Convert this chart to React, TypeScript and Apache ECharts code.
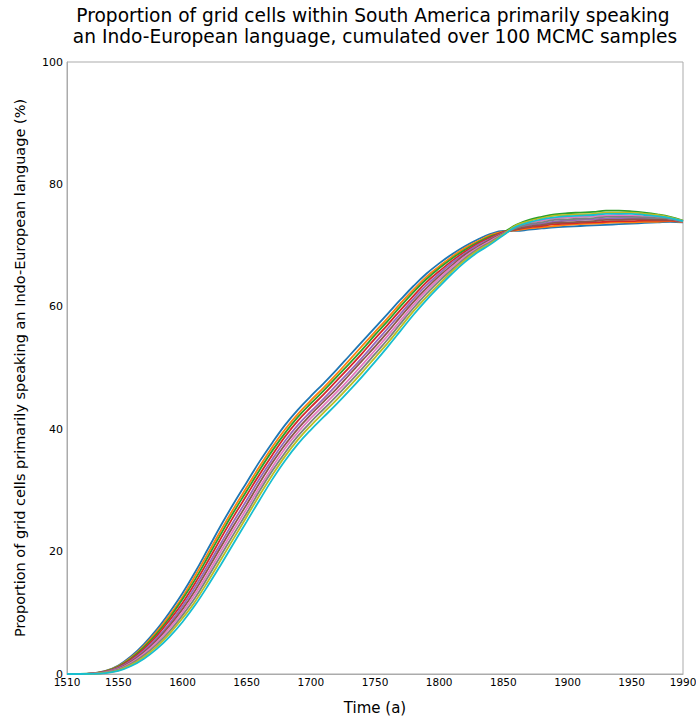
import React, { useEffect, useRef } from "react";
import * as echarts from "echarts";

const years = [
  1510, 1520, 1530, 1540, 1550, 1560, 1570, 1580, 1590, 1600, 1610, 1620, 1630, 1640, 1650, 1660, 1670,
  1680, 1690, 1700, 1710, 1720, 1730, 1740, 1750, 1760, 1770, 1780, 1790, 1800, 1810, 1820, 1830, 1840,
  1850, 1860, 1870, 1880, 1890, 1900, 1910, 1920, 1930, 1940, 1950, 1960, 1970, 1980, 1990,
];

// Proportion (%) per MCMC sample line
const sampleBlue = [
  0, 0, 0.1, 0.5, 1.4, 2.9, 4.9, 7.3, 10.1, 13.2, 16.7, 20.5, 24.3, 27.9, 31.3, 34.7, 37.8, 40.7, 43.2, 45.4,
  47.5, 49.7, 52.0, 54.3, 56.6, 58.9, 61.2, 63.4, 65.4, 67.1, 68.6, 69.9, 71.0, 71.9, 72.4,
  72.4, 72.6, 72.8, 73.0, 73.1, 73.2, 73.3, 73.4, 73.5, 73.6, 73.7, 73.8, 73.9, 73.8,
];
const sampleOrange = [
  0, 0, 0.09, 0.46, 1.29, 2.71, 4.61, 6.92, 9.6, 12.6, 16.1, 19.8, 23.5, 27.1, 30.5, 33.9, 37.1, 40.0, 42.5, 44.7,
  46.8, 49.0, 51.3, 53.6, 55.9, 58.2, 60.6, 62.8, 64.9, 66.6, 68.2, 69.6, 70.7, 71.7, 72.3,
  72.5, 72.8, 73.0, 73.2, 73.4, 73.5, 73.6, 73.7, 73.8, 73.8, 73.9, 73.9, 74.0, 73.85,
];
const sampleGreen = [
  0, 0, 0.08, 0.42, 1.2, 2.55, 4.37, 6.6, 9.2, 12.2, 15.5, 19.2, 22.9, 26.5, 29.9, 33.3, 36.5, 39.4, 42.0, 44.2,
  46.3, 48.5, 50.7, 53.0, 55.4, 57.7, 60.1, 62.4, 64.5, 66.3, 67.9, 69.3, 70.5, 71.5, 72.2,
  73.4, 74.2, 74.7, 75.1, 75.3, 75.4, 75.5, 75.7, 75.7, 75.6, 75.4, 75.1, 74.7, 74.1,
];
const sampleRed = [
  0, 0, 0.07, 0.38, 1.1, 2.37, 4.11, 6.24, 8.8, 11.6, 14.9, 18.5, 22.2, 25.8, 29.2, 32.6, 35.8, 38.8, 41.4, 43.6,
  45.7, 47.9, 50.1, 52.4, 54.8, 57.1, 59.5, 61.8, 64.0, 65.8, 67.5, 69.0, 70.3, 71.3, 72.2,
  72.6, 73.0, 73.2, 73.5, 73.6, 73.7, 73.8, 73.9, 74.0, 74.0, 74.1, 74.1, 74.1, 73.9,
];
const samplePurple = [
  0, 0, 0.06, 0.34, 1.0, 2.18, 3.82, 5.86, 8.3, 11.1, 14.3, 17.8, 21.4, 25.0, 28.4, 31.9, 35.1, 38.1, 40.7, 42.9,
  45.0, 47.2, 49.4, 51.7, 54.1, 56.5, 58.9, 61.3, 63.5, 65.4, 67.2, 68.7, 70.1, 71.1, 72.1,
  72.8, 73.3, 73.6, 73.9, 74.1, 74.2, 74.3, 74.4, 74.5, 74.5, 74.5, 74.4, 74.3, 73.9,
];
const sampleBrown = [
  0, 0, 0.06, 0.31, 0.9, 2.02, 3.58, 5.54, 7.9, 10.6, 13.7, 17.2, 20.8, 24.3, 27.7, 31.2, 34.5, 37.5, 40.1, 42.4,
  44.5, 46.6, 48.9, 51.2, 53.5, 55.9, 58.4, 60.8, 63.0, 65.0, 66.8, 68.5, 69.8, 71.0, 72.0,
  72.7, 73.1, 73.4, 73.7, 73.8, 73.9, 74.0, 74.2, 74.2, 74.3, 74.3, 74.2, 74.2, 73.95,
];
const samplePink = [
  0, 0, 0.05, 0.27, 0.81, 1.84, 3.32, 5.19, 7.5, 10.1, 13.1, 16.5, 20.1, 23.6, 27.0, 30.5, 33.8, 36.9, 39.5, 41.8,
  43.9, 46.0, 48.2, 50.5, 52.9, 55.3, 57.8, 60.3, 62.6, 64.6, 66.5, 68.2, 69.6, 70.8, 71.9,
  73.0, 73.7, 74.1, 74.4, 74.6, 74.7, 74.8, 74.9, 75.0, 74.9, 74.8, 74.7, 74.4, 74.0,
];
const sampleGray = [
  0, 0, 0.04, 0.23, 0.71, 1.67, 3.05, 4.84, 7.0, 9.6, 12.5, 15.9, 19.4, 22.9, 26.3, 29.9, 33.2, 36.2, 38.9, 41.2,
  43.3, 45.4, 47.6, 49.9, 52.3, 54.7, 57.3, 59.8, 62.1, 64.2, 66.1, 67.9, 69.4, 70.6, 71.9,
  72.9, 73.5, 73.8, 74.2, 74.3, 74.4, 74.5, 74.7, 74.7, 74.7, 74.6, 74.5, 74.4, 73.95,
];
const sampleOlive = [
  0, 0, 0.03, 0.19, 0.61, 1.49, 2.79, 4.48, 6.6, 9.1, 11.9, 15.2, 18.7, 22.2, 25.7, 29.2, 32.5, 35.6, 38.3, 40.6,
  42.7, 44.8, 47.0, 49.3, 51.7, 54.1, 56.7, 59.3, 61.6, 63.7, 65.8, 67.6, 69.2, 70.4, 71.8,
  73.3, 74.0, 74.5, 74.9, 75.0, 75.1, 75.2, 75.4, 75.4, 75.4, 75.2, 75.0, 74.6, 74.05,
];
const sampleCyan = [
  0, 0, 0.02, 0.15, 0.5, 1.3, 2.5, 4.1, 6.1, 8.5, 11.3, 14.5, 17.9, 21.4, 24.9, 28.4, 31.8, 34.9, 37.6, 39.9,
  42.0, 44.1, 46.3, 48.6, 51.0, 53.5, 56.1, 58.7, 61.1, 63.3, 65.4, 67.3, 68.9, 70.2, 71.7,
  73.1, 73.8, 74.3, 74.6, 74.8, 74.9, 75.0, 75.2, 75.2, 75.2, 75.0, 74.8, 74.5, 74.0,
];

const samples = [
  sampleBlue, sampleOrange, sampleGreen, sampleRed, samplePurple,
  sampleBrown, samplePink, sampleGray, sampleOlive, sampleCyan,
];
const colors = [
  "#1f77b4", "#ff7f0e", "#2ca02c", "#d62728", "#9467bd",
  "#8c564b", "#e377c2", "#7f7f7f", "#bcbd22", "#17becf",
];

const xTickLabels = [1510, 1550, 1600, 1650, 1700, 1750, 1800, 1850, 1900, 1950, 1990];
const yTickLabels = [0, 20, 40, 60, 80, 100];

const titleLine1 = "Proportion of grid cells within South America primarily speaking";
const titleLine2 = "an Indo-European language, cumulated over 100 MCMC samples";
const xName = "Time (a)";
const yName = "Proportion of grid cells primarily speaking an Indo-European language (%)";

const FONT = "'DejaVu Sans', sans-serif";
const AXIS_COLOR = "#ababab";

export default function App() {
  const ref = useRef<HTMLDivElement>(null);
  useEffect(() => {
    if (!ref.current) return;
    const chart = echarts.init(ref.current, null, { renderer: "svg" });
    chart.setOption({
      animation: false,
      backgroundColor: "#ffffff",
      grid: {
        left: 67,
        right: 13,
        top: 62,
        bottom: 47,
        outerBoundsMode: "none",
        containLabel: false,
        show: true,
        borderColor: AXIS_COLOR,
        borderWidth: 1,
        backgroundColor: "transparent",
      },
      graphic: [
        {
          type: "text",
          x: 373,
          y: 15,
          style: {
            text: titleLine1,
            textAlign: "center",
            textVerticalAlign: "middle",
            fontSize: 18.6,
            fontFamily: FONT,
            fill: "#000",
          },
        },
        {
          type: "text",
          x: 375,
          y: 36,
          style: {
            text: titleLine2,
            textAlign: "center",
            textVerticalAlign: "middle",
            fontSize: 18.6,
            fontFamily: FONT,
            fill: "#000",
          },
        },
      ],
      xAxis: {
        type: "value",
        min: 1510,
        max: 1990,
        name: xName,
        nameLocation: "middle",
        nameGap: 26,
        nameTextStyle: { fontSize: 15, fontFamily: FONT, color: "#000" },
        axisLine: { show: true, lineStyle: { color: AXIS_COLOR, width: 1 } },
        axisTick: { show: false },
        splitLine: { show: false },
        axisLabel: {
          customValues: xTickLabels,
          formatter: (v: number) => String(v),
          fontSize: 10.5,
          fontFamily: FONT,
          color: "#000",
          margin: 2,
        },
      },
      yAxis: {
        type: "value",
        min: 0,
        max: 100,
        interval: 20,
        name: yName,
        nameLocation: "middle",
        nameGap: 40,
        nameTextStyle: { fontSize: 14.5, fontFamily: FONT, color: "#000" },
        axisLine: { show: true, lineStyle: { color: AXIS_COLOR, width: 1 } },
        axisTick: { show: false },
        splitLine: { show: false },
        axisLabel: {
          customValues: yTickLabels,
          formatter: (v: number) => String(v),
          fontSize: 11,
          fontFamily: FONT,
          color: "#000",
          margin: 4,
        },
      },
      series: samples.map((s, k) => ({
        type: "line",
        data: years.map((yr, i) => [yr, s[i]]),
        showSymbol: false,
        smooth: 0.4,
        silent: true,
        color: colors[k],
        lineStyle: { width: 1.8, color: colors[k] },
        emphasis: { disabled: true },
      })),
    });
    return () => chart.dispose();
  }, []);
  return (
    <div
      ref={ref}
      style={{ position: "fixed", left: 0, top: 0, width: 696, height: 721, background: "#fff" }}
    />
  );
}
